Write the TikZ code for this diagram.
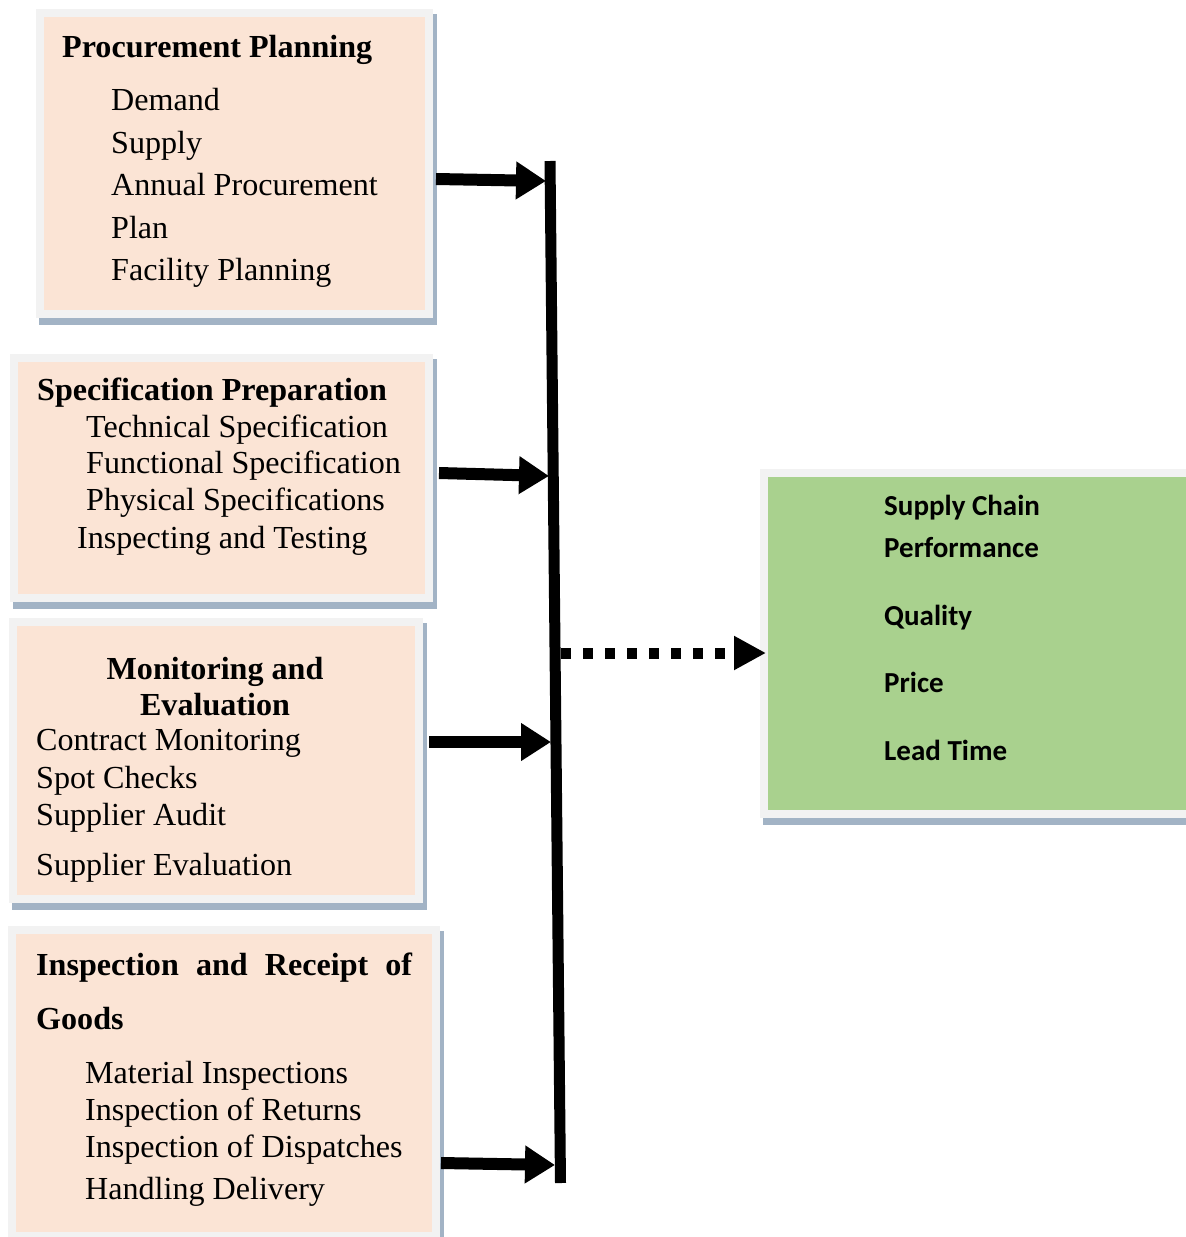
\documentclass[tikz,border=0pt]{standalone}
\usepackage{fontspec}
\setmainfont{Liberation Serif}
\newfontfamily\calfont{Carlito}
\usetikzlibrary{arrows.meta,backgrounds}
\definecolor{peach}{HTML}{FBE4D5}
\definecolor{boxgrey}{HTML}{F2F2F2}
\definecolor{shadowc}{HTML}{A2B3C5}
\definecolor{greenf}{HTML}{A9D18E}
\begin{document}
\begin{tikzpicture}[x=1pt,y=-1pt,
  box/.style={draw=boxgrey, line width=8pt, fill=peach, inner sep=0pt, outer sep=4pt},
  gbox/.style={draw=boxgrey, line width=8pt, fill=greenf, inner sep=0pt, outer sep=4pt},
  shade/.style={fill=shadowc},
  txt/.style={anchor=base west, inner sep=0pt, font=\fontsize{32.1}{37}\selectfont},
  ttl/.style={anchor=base west, inner sep=0pt, font=\bfseries\fontsize{32.1}{37}\selectfont},
  gtxt/.style={anchor=base west, inner sep=0pt, font=\calfont\bfseries\fontsize{29}{34}\selectfont},
  arr/.style={line width=12pt, -{Triangle[length=30pt,width=36pt]}},
  dotarr/.style={line width=11pt, dash pattern=on 10pt off 12pt, -{Triangle[length=32pt,width=32pt]}},
  bus/.style={line width=11pt}
]
\useasboundingbox (0,0) rectangle (1186,1237);
\clip (0,0) rectangle (1186,1237);

% boxes
\node[box, minimum width=389pt, minimum height=301pt] (b1) at (234.5,163.5) {};
\node[box, minimum width=415pt, minimum height=240pt] (b2) at (221.5,478) {};
\node[box, minimum width=406pt, minimum height=277pt] (b3) at (216,760.5) {};
\node[box, minimum width=424pt, minimum height=306pt] (b4) at (224,1083) {};
\node[gbox, minimum width=428pt, minimum height=341pt] (g) at (978,643.5) {};

\begin{scope}[on background layer]
  \foreach \b in {b1,b2,b3,b4,g}
    \fill[shade] ([shift={(3,5)}]\b.north west) rectangle ([shift={(4,7)}]\b.south east);
\end{scope}

% box 1 text
\node[ttl] (t1) at (62,57) {Procurement Planning};
\node[txt] (t1a) at (111,110) {Demand};
\node[txt] (t1b) at (111,153) {Supply};
\node[txt] (t1c) at (111,195) {Annual Procurement};
\node[txt] (t1d) at (111,238) {Plan};
\node[txt] (t1e) at (111,280) {Facility Planning};

% box 2 text
\node[ttl] (t2) at (37,400) {Specification Preparation};
\node[txt] (t2a) at (86,437) {Technical Specification};
\node[txt] (t2b) at (86,473) {Functional Specification};
\node[txt] (t2c) at (86,510) {Physical Specifications};
\node[txt] (t2d) at (77,548) {Inspecting and Testing};

% box 3 text
\node[ttl, anchor=base] (t3) at (215,679) {Monitoring and};
\node[ttl, anchor=base] (t3x) at (215,715) {Evaluation};
\node[txt] (t3a) at (36,750) {Contract Monitoring};
\node[txt] (t3b) at (36,788) {Spot Checks};
\node[txt] (t3c) at (36,825) {Supplier Audit};
\node[txt] (t3d) at (36,875) {Supplier Evaluation};

% box 4 text
\node[ttl] (t4) at (36,975) {\hbox to 376pt{Inspection\hfill and\hfill Receipt\hfill of}};
\node[ttl] (t4x) at (36,1029) {Goods};
\node[txt] (t4a) at (85,1083) {Material Inspections};
\node[txt] (t4b) at (85,1120) {Inspection of Returns};
\node[txt] (t4c) at (85,1157) {Inspection of Dispatches};
\node[txt] (t4d) at (85,1199) {Handling Delivery};

% green box text
\node[gtxt] (ga) at (884,515) {Supply Chain};
\node[gtxt] (gb) at (884,557) {Performance};
\node[gtxt] (gc) at (884,625) {Quality};
\node[gtxt] (gd) at (884,692) {Price};
\node[gtxt] (ge) at (884,760) {Lead Time};

% bus bar
\coordinate (bartop) at (550,161);
\coordinate (barbot) at (560.5,1183);
\draw[bus] (bartop) -- (barbot);

% arrow end points on the bar
\coordinate (e1) at (546,181);
\coordinate (e2) at (549,476);
\coordinate (e3) at (551,742);
\coordinate (e4) at (555,1165);
\coordinate (ds) at (561,653);
\coordinate (de) at (766,653);

\draw[arr] ([shift={(3,15.5)}]b1.east) -- (e1);
\draw[arr] ([shift={(6,-5)}]b2.east) -- (e2);
\draw[arr] ([shift={(6,-18.5)}]b3.east) -- (e3);
\draw[arr] ([shift={(1,80)}]b4.east) -- (e4);
\draw[dotarr] (ds) -- (de);
\end{tikzpicture}
\end{document}
